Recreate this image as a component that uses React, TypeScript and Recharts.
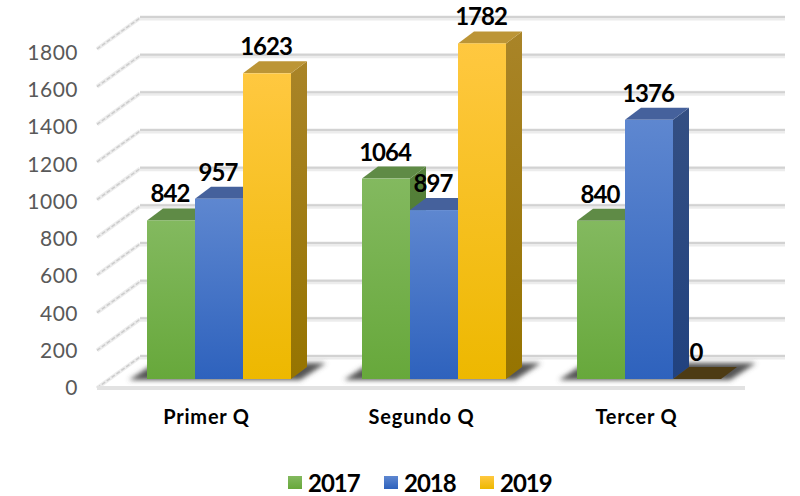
import React from 'react';
import {
  BarChart, Bar, XAxis, YAxis, CartesianGrid, Legend, LabelList,
} from 'recharts';

const CATEGORIES = ['Primer Q', 'Segundo Q', 'Tercer Q'];
const SERIES_2017 = [842, 1064, 840];
const SERIES_2018 = [957, 897, 1376];
const SERIES_2019 = [1623, 1782, 0];
const Y_TICKS = [0, 200, 400, 600, 800, 1000, 1200, 1400, 1600, 1800];

const chartData = CATEGORIES.map((name, i) => ({
  name,
  y2017: SERIES_2017[i],
  y2018: SERIES_2018[i],
  y2019: SERIES_2019[i],
}));

const FONT = 'Lato, "Open Sans", sans-serif';

// bar depth, and how far the walls sit in front of / behind the bar plane
const DEPTH_X = 16;
const DEPTH_Y = 12;
const PLOT_LEFT = 111;
const FRONT = { x: 97 - PLOT_LEFT, y: 9, right: 745 };
const BACK = { x: 140 - PLOT_LEFT, y: -22, right: 785 };

interface SeriesStyle {
  key: string;
  label: string;
  swatch: string;
  grad: [string, string];
  side: [string, string];
  top: string;
  zeroTop?: string;
}

const STYLES: SeriesStyle[] = [
  { key: 'y2017', label: '2017', swatch: 'url(#front-y2017)', grad: ['#83b95f', '#67a83b'], side: ['#55803a', '#4a7a2c'], top: '#5f8b46' },
  { key: 'y2018', label: '2018', swatch: 'url(#front-y2018)', grad: ['#5e87d0', '#2e62bd'], side: ['#344f83', '#21427f'], top: '#45619c' },
  { key: 'y2019', label: '2019', swatch: 'url(#front-y2019)', grad: ['#ffc840', '#edb800'], side: ['#a98428', '#967400'], top: '#bc9536', zeroTop: '#4d3b14' },
];

const WallLine = (props: any) => {
  const { x1, y1 } = props;
  const fx = x1 + FRONT.x;
  const fy = y1 + FRONT.y;
  const bx = x1 + BACK.x;
  const by = y1 + BACK.y;
  const isFloor = Math.abs(y1 - 379) < 1;
  return (
    <g>
      <line x1={fx} y1={fy} x2={bx} y2={by} stroke="#ececec" strokeWidth={4} />
      <line x1={fx} y1={fy} x2={bx} y2={by} stroke="#cccccc" strokeWidth={1.5} strokeDasharray="4 2" />
      <line x1={bx} y1={by} x2={BACK.right} y2={by} stroke="#ececec" strokeWidth={5} />
      <line x1={bx} y1={by - 1} x2={BACK.right} y2={by - 1} stroke="#d2d2d2" strokeWidth={2} />
      {isFloor && (
        <line x1={fx} y1={fy} x2={FRONT.right} y2={fy} stroke="#e2e2e2" strokeWidth={4} />
      )}
    </g>
  );
};

const Bar3D = (style: SeriesStyle, withShadow: boolean) => (props: any) => {
  const { x, y, width, height } = props;
  const r = x + width;
  const b = y + height;
  const topFace = `${x},${y} ${r},${y} ${r + DEPTH_X},${y - DEPTH_Y} ${x + DEPTH_X},${y - DEPTH_Y}`;
  const sideFace = `${r},${y} ${r + DEPTH_X},${y - DEPTH_Y} ${r + DEPTH_X},${b - DEPTH_Y} ${r},${b}`;
  return (
    <g>
      {withShadow && (
        <polygon
          points={`${x - 18},${b + 1} ${x + 153},${b + 1} ${x + 179},${b - 16} ${x + 8},${b - 16}`}
          fill="#555555"
          filter="url(#floor-blur)"
        />
      )}
      {height > 0 ? (
        <>
          <polygon points={sideFace} fill={`url(#side-${style.key})`} />
          <polygon points={topFace} fill={style.top} />
          <rect x={x} y={y} width={width} height={height} fill={`url(#front-${style.key})`} />
        </>
      ) : (
        <polygon points={topFace} fill={style.zeroTop || style.top} />
      )}
    </g>
  );
};

const ValueLabel = (props: any) => {
  const { x, y, width, value } = props;
  return (
    <text
      x={x + width / 2 - 1}
      y={y - 18}
      textAnchor="middle"
      fontFamily={FONT}
      fontWeight={700}
      fontSize={24}
      letterSpacing={-1}
      fill="#000"
    >
      {value}
    </text>
  );
};

const YTick = (props: any) => {
  const { y, payload } = props;
  // the printed scale is slightly tighter than the bar scale
  const shift = 9 + 4 * (payload.value / 1800);
  return (
    <text
      x={78}
      y={y + shift + 7}
      textAnchor="end"
      fontFamily={FONT}
      fontSize={21}
      letterSpacing={0.5}
      fill="#595959"
    >
      {payload.value}
    </text>
  );
};

const XTick = (props: any) => {
  const { x, payload } = props;
  return (
    <text
      x={x - 12}
      y={424}
      textAnchor="middle"
      fontFamily={FONT}
      fontWeight={700}
      fontSize={20}
      letterSpacing={0.8}
      fill="#000"
    >
      {payload.value}
    </text>
  );
};

const LegendRow = () => (
  <svg width={800} height={30} style={{ display: 'block' }}>
    {STYLES.map((s, i) => (
      <g key={s.key}>
        <rect x={288 + i * 96} y={10} width={14} height={13} fill={s.swatch} />
        <text x={308 + i * 96} y={26} fontFamily={FONT} fontWeight={700} fontSize={24} letterSpacing={-1} fill="#000">
          {s.label}
        </text>
      </g>
    ))}
  </svg>
);

const App: React.FC = () => (
  <div style={{ position: 'absolute', left: 0, top: 0, width: 800, height: 496, background: '#fff' }}>
    <BarChart
      width={800}
      height={496}
      data={chartData}
      margin={{ top: 40, right: 44, bottom: 47, left: 0 }}
      barSize={48}
      barGap={0}
    >
      <defs>
        <filter id="floor-blur" x="-10%" y="-60%" width="120%" height="220%">
          <feGaussianBlur stdDeviation="2.5" />
        </filter>
        {STYLES.map(s => (
          <React.Fragment key={s.key}>
            <linearGradient id={`front-${s.key}`} x1="0" y1="0" x2="0" y2="1">
              <stop offset="0%" stopColor={s.grad[0]} />
              <stop offset="100%" stopColor={s.grad[1]} />
            </linearGradient>
            <linearGradient id={`side-${s.key}`} x1="0" y1="0" x2="0" y2="1">
              <stop offset="0%" stopColor={s.side[0]} />
              <stop offset="100%" stopColor={s.side[1]} />
            </linearGradient>
          </React.Fragment>
        ))}
      </defs>
      <CartesianGrid vertical={false} horizontal={(p: any) => <WallLine key={p.key} {...p} />} />
      <XAxis dataKey="name" height={40} axisLine={false} tickLine={false} tick={<XTick />} interval={0} />
      <YAxis
        width={111}
        domain={[0, 1800]}
        ticks={Y_TICKS}
        interval={0}
        axisLine={false}
        tickLine={false}
        tick={<YTick />}
      />
      <Legend
        content={<LegendRow />}
        height={30}
        verticalAlign="bottom"
        wrapperStyle={{ left: 0, bottom: 0, width: 800 }}
      />
      {STYLES.map((s, i) => (
        <Bar key={s.key} dataKey={s.key} name={s.label} isAnimationActive={false} shape={Bar3D(s, i === 0)}>
          <LabelList dataKey={s.key} content={<ValueLabel />} />
        </Bar>
      ))}
    </BarChart>
  </div>
);

export default App;
